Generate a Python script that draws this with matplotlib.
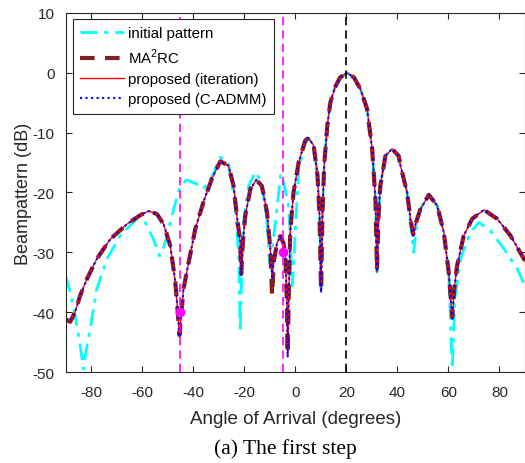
import matplotlib
matplotlib.use("Agg")
import matplotlib.pyplot as plt
import numpy as np

plt.rcParams['font.family'] = ['Liberation Sans', 'DejaVu Sans']
plt.rcParams['mathtext.fontset'] = 'custom'
plt.rcParams['mathtext.rm'] = 'Liberation Sans'
plt.rcParams['axes.unicode_minus'] = False

# proposed pattern (iteration / C-ADMM overlap)
prop_deg = [-90, -88.2, -86.3, -84.3, -81.7, -77.8, -72.5, -66, -60.8, -57.5,
            -54.2, -51.6, -49, -47, -45.8, -45.4, -44.6, -43.8, -41.8, -39.2,
            -36, -32.7, -29.4, -26.2, -24.2, -22.9, -21.6, -21.2, -20.5, -19.6,
            -17.6, -15.3, -13.1, -11.1, -9.8, -9.1, -8.4, -7.2, -5.9, -4.6,
            -3.9, -3.3, -3.0, -2.6, -2, -0.7, 1.3, 3.9, 5.2, 7.2,
            8.7, 9.5, 10.1, 10.6, 11.3, 12.5, 13.7, 15.5, 17.5, 20.3,
            23, 25.5, 28.1, 30.1, 31.4, 32, 32.6, 33.3, 35.3, 37.9,
            40.5, 41.2, 43.8, 45.1, 46.2, 47.3, 49, 52.3, 55.6, 58.2,
            60.1, 61.5, 62.3, 63.4, 66, 69.3, 73.9, 79.1, 84.3, 90]
prop_db = [-41.0, -41.4, -40.0, -37.2, -34.5, -31.1, -27.8, -25.3, -23.8, -23.1,
           -23.6, -25.3, -28.9, -35.0, -41.5, -44.2, -40.0, -36.1, -31.7, -26.1,
           -21.6, -17.7, -14.8, -15.5, -18.9, -23.9, -28.3, -33.9, -28.0, -23.9,
           -19.4, -17.9, -18.9, -23.3, -29.4, -34.1, -31.5, -28.5, -27.3, -28.5,
           -30.6, -38.3, -47.5, -38.0, -26.6, -20.0, -15.0, -11.3, -10.9, -12.2,
           -17.2, -23.9, -36.7, -24.0, -15.5, -9.0, -5.0, -2.5, -0.8, 0.0,
           -0.8, -2.7, -6.0, -12.7, -21.1, -33.3, -24.0, -18.9, -13.9, -12.7,
           -13.9, -15.5, -20.0, -24.4, -27.2, -25.0, -22.8, -20.4, -22.2, -26.7,
           -33.3, -41.1, -36.0, -32.2, -27.2, -24.4, -22.9, -24.4, -27.2, -31.4]

# MA2RC pattern (same grid as proposed)
ma2rc_db = [-41.2, -41.6, -40.0, -37.2, -34.5, -31.1, -27.8, -25.3, -23.8, -23.1,
            -23.6, -25.3, -28.9, -35.0, -41.5, -43.8, -40.0, -36.1, -31.7, -26.1,
            -21.6, -17.7, -14.8, -15.5, -18.9, -23.9, -28.3, -33.6, -28.0, -23.9,
            -19.4, -17.9, -18.9, -23.3, -29.4, -37.2, -31.5, -28.5, -27.3, -28.5,
            -30.6, -38.3, -47.0, -38.0, -26.6, -20.0, -15.0, -11.3, -10.9, -12.2,
            -17.2, -23.9, -36.5, -24.0, -15.5, -9.0, -5.0, -2.5, -0.8, 0.0,
            -0.8, -2.7, -6.0, -12.7, -21.1, -33.0, -24.0, -18.9, -13.9, -12.7,
            -13.9, -15.5, -20.0, -24.4, -27.0, -25.0, -22.8, -20.4, -22.2, -26.7,
            -33.3, -40.8, -36.0, -32.2, -27.2, -24.4, -22.9, -24.4, -27.2, -31.4]

# initial pattern
init_deg = [-90, -88, -86.3, -84.5, -83, -81.8, -80.4, -77.8, -73.8, -68.6,
            -62.1, -58.8, -55.6, -53.2, -51.8, -50.3, -47.7, -45.1, -42.5, -38.6,
            -36, -32.7, -29.4, -26.2, -23.5, -22.2, -21.6, -20.9, -20.3, -18.3,
            -15.7, -13.1, -11.1, -10.1, -9.0, -7.8, -5.7, -4.5, -2.8, -2,
            -1.3, -0.7, 0, 0.7, 1.3, 3.9, 5.2, 7.2, 8.7, 9.5,
            10.1, 10.6, 11.3, 12.5, 13.7, 15.5, 17.5, 20.3, 23, 25.5,
            28.1, 30.1, 31.4, 32, 32.6, 33.3, 35.3, 37.9, 40.5, 41.2,
            43.8, 45.1, 46.4, 47.5, 49, 52.3, 55.6, 58.2, 60.1, 61.5,
            62.5, 64.7, 68.6, 71.9, 76.5, 81.7, 87, 90]
init_db = [-33.9, -37.0, -40.6, -45.0, -49.5, -46.0, -42.8, -36.1, -31.1, -27.2,
           -24.4, -25.0, -27.8, -30.6, -29.5, -27.2, -22.8, -18.9, -17.9, -18.6,
           -19.4, -17.4, -14.1, -15.2, -22.2, -30.6, -43.4, -32.0, -25.0, -18.9,
           -16.6, -18.3, -25.0, -31.7, -29.0, -25.0, -16.9, -18.5, -22.0, -26.7,
           -35.6, -33.0, -26.0, -21.1, -16.0, -11.8, -11.0, -12.0, -17.0, -23.9,
           -36.7, -24.0, -15.5, -9.0, -5.0, -2.5, -0.8, 0.0, -0.8, -2.7,
           -6.0, -12.7, -21.1, -33.3, -24.0, -18.9, -13.9, -12.7, -13.9, -15.5,
           -20.0, -25.0, -30.0, -25.5, -22.8, -20.4, -22.2, -26.7, -33.3, -49.5,
           -38.0, -31.1, -26.7, -25.0, -26.4, -29.4, -32.8, -35.6]

null_deg = [-45, -5]
null_db = [-40, -30]
target_deg = [20]

fig = plt.figure(figsize=(5.25, 4.64), dpi=100)
ax = fig.add_axes([0.125, 0.196, 0.875, 0.774])

ax.plot(init_deg, init_db, color='cyan', linestyle='-.', linewidth=2, dashes=(6, 2.5, 1.5, 2.5), label='initial pattern')
ax.plot(prop_deg, ma2rc_db, color='#7f1f1f', linestyle='--', linewidth=3, dashes=(3.5, 2.5), label='MA$^2$RC')
ax.plot(prop_deg, prop_db, color='red', linestyle='-', linewidth=1, label='proposed (iteration)')
ax.plot(prop_deg, prop_db, color='blue', linestyle=':', linewidth=1.5, label='proposed (C-ADMM)')

for d in null_deg:
    ax.axvline(d, color='magenta', linestyle='--', linewidth=1.2, dashes=(5, 3))
for d in target_deg:
    ax.axvline(d, color='black', linestyle='--', linewidth=1.2, dashes=(5, 3))
ax.plot(null_deg, null_db, 'o', color='magenta', markersize=6, linestyle='none')

ax.set_xlim(-90, 90)
ax.set_ylim(-50, 10)
ax.set_xticks(np.arange(-80, 81, 20))
ax.set_yticks(np.arange(-50, 11, 10))
ax.tick_params(direction='in', top=True, right=True, labelsize=11, length=4, colors='#262626')
ax.tick_params(axis='x', pad=9)
ax.tick_params(axis='y', pad=8)
for s in ax.spines.values():
    s.set_color('#262626')
    s.set_linewidth(0.8)

ax.set_xlabel('Angle of Arrival (degrees)', fontsize=13.5, color='#262626', labelpad=8)
ax.set_ylabel('Beampattern (dB)', fontsize=13, color='#262626')
ax.yaxis.set_label_coords(-0.074, 0.5)

leg = ax.legend(loc='upper left', bbox_to_anchor=(0.016, 0.984), borderaxespad=0, fontsize=10.8,
                handlelength=2.9, fancybox=False, framealpha=1, edgecolor='#262626',
                labelspacing=0.42, borderpad=0.5, handletextpad=0.25)
leg.get_frame().set_linewidth(0.8)

fig.text(0.543, 0.032, '(a) The first step', ha='center', va='center', fontsize=15.5, family='Liberation Serif')

fig.savefig('out.png', dpi=100)
